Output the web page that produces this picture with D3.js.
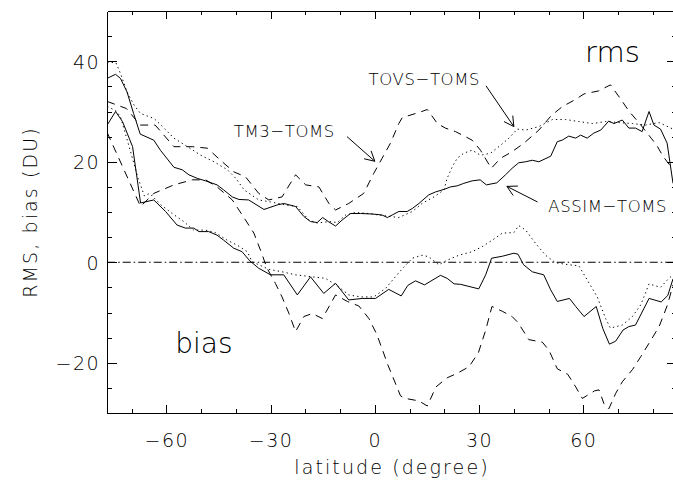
<!DOCTYPE html>
<html><head><meta charset="utf-8">
<script src="https://cdn.jsdelivr.net/npm/d3@7"></script>
<style>
body{margin:0;background:#fff}
svg{display:block}
text{font-family:'DejaVu Sans',sans-serif;font-weight:200;fill:#000}
.txt{opacity:0.999}
</style>
</head><body>
<svg id="c" width="673" height="485"></svg>
<script>
// ---- data: [latitude, value] ----
const assimRms = [[-77,36.6],[-74.6,37.4],[-73.2,36.6],[-71.3,33.9],[-69.4,29.6],[-67.5,25.5],[-63.6,24.3],[-61.7,22.3],[-57.8,18.9],[-55.4,18.4],[-53.5,17.4],[-51.1,16.7],[-48.7,16.2],[-45.4,15.4],[-43.5,14.4],[-41,13.0],[-39.1,12.5],[-36.3,12.4],[-31.9,10.5],[-28.1,11.4],[-26.2,11.7],[-22.8,11.1],[-20.4,9.1],[-18.5,8.1],[-16.6,7.9],[-15,8.9],[-13.4,8.1],[-11.3,7.2],[-9.4,8.4],[-7,9.7],[-4.1,9.7],[-0.7,9.6],[2.1,9.4],[3.6,8.9],[5,9.4],[6.9,10.1],[9.3,10.1],[10.8,10.7],[12.7,11.7],[15.5,13.4],[17.5,14.0],[19.9,14.5],[21.8,15.0],[23.7,15.2],[25.6,15.7],[28,16.2],[30.3,16.4],[32.1,15.4],[35.1,15.8],[37.6,17.4],[39.5,18.7],[41.4,19.8],[43.4,20.0],[45.3,20.3],[47.2,20.0],[50.6,21.1],[52.5,24.0],[53.9,24.3],[55.8,25.1],[57.8,24.7],[59.2,25.3],[61.1,24.7],[63,25.7],[65,26.3],[67.3,28.1],[68.8,27.6],[71.2,28.3],[73.1,26.7],[75,26.7],[76.9,26.0],[78.9,30.0],[80.3,27.3],[82.2,26.5],[84.1,23.7],[85.8,15.7]];
const tovsRms = [[-77,39.8],[-74.5,39.7],[-73.2,37.6],[-71.3,33.9],[-69.3,31.3],[-67.4,29.6],[-63.5,28.6],[-61.1,27.0],[-57.8,24.7],[-53.9,23.0],[-50.1,21.3],[-46.3,20.0],[-42.4,18.4],[-40,16.7],[-37.6,14.4],[-33.4,12.4],[-30,12.0],[-25.7,11.4],[-22.3,11.1],[-19,8.4],[-16.6,7.8],[-13.2,8.1],[-10.8,7.9],[-8.4,9.4],[-5.6,9.9],[-1.7,9.7],[1.1,9.4],[4.5,9.1],[6.9,8.9],[10.8,10.1],[13.6,11.7],[17,13.0],[19.9,14.4],[20.8,16.7],[22.3,19.0],[23.7,20.7],[25.6,21.7],[28,22.3],[30.4,21.3],[33.3,21.7],[36.2,23.3],[38.6,24.7],[41,26.5],[43.4,26.3],[47.2,27.0],[51.1,28.4],[54.9,28.4],[58.7,28.0],[62.6,27.6],[66.4,28.0],[70.2,27.8],[74.1,27.6],[77.9,27.3],[81.8,27.8],[85.8,26.5]];
const tm3Rms = [[-77,32.0],[-71.5,30.6],[-67.5,27.3],[-63.2,27.3],[-57.8,23.0],[-52.5,23.0],[-48.2,22.7],[-44.4,20.3],[-40.6,18.0],[-37.2,17.0],[-33.4,13.7],[-30.5,12.4],[-26.7,13.0],[-22.8,17.4],[-19.9,15.4],[-16.1,15.0],[-13.2,11.7],[-11.3,10.4],[-7.5,11.7],[-3.2,13.7],[-0.3,17.7],[2.1,20.7],[4.5,23.7],[6.9,27.6],[7.9,28.8],[12.7,29.8],[15.1,30.4],[18,27.6],[20.3,26.7],[23.2,26.0],[28,24.3],[30.4,22.3],[33.5,18.7],[36.2,20.7],[39.5,22.0],[42.9,23.7],[47.2,26.3],[50.8,29.2],[54,31.0],[57.5,32.3],[60.2,33.5],[64.4,34.1],[67.8,35.3],[70.4,32.8],[73.2,30.0],[76.2,27.6],[79.5,24.7],[81,23.4],[83,21.0],[85.8,18.5]];
const assimBias = [[-77,27.3],[-74.6,30.0],[-72.6,28.0],[-69.7,23.0],[-67.4,11.8],[-63.6,12.4],[-60.2,10.1],[-56.9,7.4],[-54.5,6.8],[-52.1,6.8],[-50.6,6.1],[-47.8,6.1],[-45.4,5.4],[-43.5,4.4],[-40.6,2.8],[-38.2,2.1],[-36,0.3],[-33.4,-1.2],[-30,-2.5],[-26.2,-2.5],[-22.3,-6.5],[-18.5,-2.9],[-14.7,-6.2],[-11.3,-4.2],[-7.5,-7.5],[-3.6,-7.2],[0.2,-7.2],[4,-5.4],[7.6,-6.7],[9.5,-4.6],[11.7,-3.7],[14.3,-4.5],[18.9,-2.6],[20.8,-3.2],[22.8,-4.3],[24.7,-4.4],[29.9,-5.3],[31.9,-2.5],[33.6,0.8],[36.7,1.2],[40,1.8],[41.2,1.6],[42.8,-0.5],[45.3,-1.9],[48.6,-2.5],[50.6,-5.5],[52.5,-7.8],[56,-7.2],[57.8,-8.8],[60.2,-10.8],[63.7,-8.8],[65.6,-13.2],[67.5,-16.3],[69.3,-15.7],[71.4,-13.5],[73.1,-12.8],[75,-12.5],[78.9,-7.2],[82.4,-7.9],[84.3,-6.6],[85.8,-3.3]];
const tovsBias = [[-77,31.0],[-74.6,30.2],[-73.2,29.0],[-70.4,22.3],[-68.1,16.7],[-66.3,13.2],[-64.8,13.7],[-61.5,11.4],[-58.3,9.7],[-55,8.1],[-52.1,6.4],[-48.7,6.4],[-45.9,5.9],[-42.5,4.4],[-39.6,3.4],[-36.7,2.1],[-35.3,0.1],[-30.5,-1.4],[-26.7,-1.9],[-22.8,-2.5],[-18,-2.9],[-14.2,-3.2],[-10.4,-4.9],[-7.5,-6.5],[-4.1,-6.9],[-0.3,-6.9],[3.1,-5.2],[5.9,-2.9],[8.3,-1.0],[10.8,0.8],[13.6,1.4],[15.5,1.1],[18.4,-0.5],[20.8,0.4],[24.2,1.4],[28,2.1],[30.9,3.1],[33.8,4.4],[36.7,5.8],[40,5.9],[41.4,7.3],[43.4,6.4],[46.2,3.8],[49.1,1.4],[52,-0.1],[55.8,-0.5],[58.7,-0.7],[61.1,-3.5],[64,-6.9],[66.4,-11.2],[67.8,-13.1],[71.2,-12.5],[74.1,-10.8],[76.5,-8.5],[78.9,-4.3],[82.2,-5.0],[84.6,-3.2],[85.8,-2.5]];
const tm3Bias = [[-77,25.8],[-67.4,11.1],[-63.6,13.7],[-57.8,15.4],[-52.5,16.4],[-48.7,16.4],[-45.4,15.0],[-41,12.4],[-39.1,10.4],[-37.2,8.4],[-34.8,5.8],[-32.9,2.4],[-31,-1.2],[-28.6,-4.2],[-26.7,-6.9],[-24.7,-10.2],[-22.8,-13.8],[-20.4,-10.8],[-18,-10.2],[-15.1,-11.2],[-11.3,-6.5],[-7.9,-7.8],[-4.6,-8.7],[-1.7,-11.2],[0.6,-14.4],[3.8,-20.5],[7.4,-26.6],[8.8,-27.1],[12.7,-27.6],[15.1,-28.6],[17.6,-24.8],[20.8,-23.0],[23.7,-22.1],[27.1,-20.8],[29.8,-18.0],[31.9,-13.5],[33.7,-8.8],[36.8,-9.8],[39.5,-10.8],[41.2,-12.0],[44.3,-15.4],[48.2,-15.9],[50.1,-17.5],[52.5,-21.2],[55.5,-22.3],[57.8,-24.8],[59.7,-27.1],[63.2,-25.6],[64.5,-25.4],[65.9,-28.1],[67.3,-29.2],[69.3,-26.1],[71.2,-23.8],[74.2,-21.3],[76.5,-18.8],[79,-16.0],[81.8,-12.8],[84.2,-8.5],[85.8,-4.5]];

const xMajorTicks = [-60,-30,0,30,60];
const xMinorTicks = [-70,-50,-40,-20,-10,10,20,40,50,70,80];
const yMajorTicks = [-20,0,20,40];
const yMinorTicks = [-25,-15,-10,-5,5,10,15,25,30,35,45];
const xTitle = "latitude (degree)";
const yTitle = "RMS, bias (DU)";

// annotations in data coordinates
const labels = [
  {t:"rms", lat:60.5, v:39.9, size:29, ls:0},
  {t:"bias", lat:-57.4, v:-18.0, size:28, ls:0},
  {t:"TM3−TOMS", lat:-40.6, v:25.0, size:16.5, ls:0.6},
  {t:"TOVS−TOMS", lat:-1.8, v:35.2, size:16.5, ls:0.6},
  {t:"ASSIM−TOMS", lat:49.9, v:10.0, size:16.5, ls:0.6}
];
const arrows = [
  {from:[-8.0,25.0], to:[0.0,20.1]},
  {from:[32.0,35.1], to:[40.0,27.0]},
  {from:[46.8,12.0], to:[38.0,15.1]}
];

// ---- drawing ----
const W=673, H=485;
const x = d3.scaleLinear().domain([-77,87]).range([107.2,677.2]);
const y = d3.scaleLinear().domain([-30,50]).range([413,11]);
const svg = d3.select("#c");
svg.append("rect").attr("width",W).attr("height",H).attr("fill","#fff");

svg.append("clipPath").attr("id","clip").append("rect")
  .attr("x",x(-77)).attr("y",y(50)).attr("width",x(87)-x(-77)).attr("height",y(-30)-y(50));

const fmt = d => d<0 ? "\u2212"+Math.abs(d) : String(d);

function styleAxis(g){
  g.select(".domain").attr("stroke","#000").attr("stroke-width",1);
  g.selectAll(".tick line").attr("stroke","#000").attr("stroke-width",1);
  g.attr("shape-rendering","crispEdges");
}
// bottom
const gb = svg.append("g").attr("transform","translate(0,413)")
  .call(d3.axisBottom(x).tickValues(xMajorTicks).tickSize(-8).tickSizeOuter(0).tickFormat(fmt));
styleAxis(gb);
gb.selectAll("text").attr("class","txt").attr("y",34).attr("dy",0).style("font-size","19px").style("letter-spacing","1.5px").attr("fill","#000");
svg.append("g").attr("transform","translate(0,413)")
  .call(d3.axisBottom(x).tickValues(xMinorTicks).tickSize(-4).tickSizeOuter(0).tickFormat(""))
  .call(styleAxis);
// top
svg.append("g").attr("transform","translate(0,11)")
  .call(d3.axisTop(x).tickValues(xMajorTicks).tickSize(-8).tickSizeOuter(0).tickFormat(""))
  .call(styleAxis);
svg.append("g").attr("transform","translate(0,11)")
  .call(d3.axisTop(x).tickValues(xMinorTicks).tickSize(-4).tickSizeOuter(0).tickFormat(""))
  .call(styleAxis);
// left
const gl = svg.append("g").attr("transform","translate("+x(-77)+",0)")
  .call(d3.axisLeft(y).tickValues(yMajorTicks).tickSize(-10).tickSizeOuter(0).tickFormat(fmt));
styleAxis(gl);
gl.selectAll("text").attr("class","txt").attr("x",-7).attr("dy","0.36em").style("font-size","19px").style("letter-spacing","1.5px").attr("fill","#000");
svg.append("g").attr("transform","translate("+x(-77)+",0)")
  .call(d3.axisLeft(y).tickValues(yMinorTicks).tickSize(-5).tickSizeOuter(0).tickFormat(""))
  .call(styleAxis);
// right
svg.append("g").attr("transform","translate("+x(87)+",0)")
  .call(d3.axisRight(y).tickValues(yMajorTicks).tickSize(-10).tickSizeOuter(0).tickFormat(""))
  .call(styleAxis);
svg.append("g").attr("transform","translate("+x(87)+",0)")
  .call(d3.axisRight(y).tickValues(yMinorTicks).tickSize(-5).tickSizeOuter(0).tickFormat(""))
  .call(styleAxis);

// titles
svg.append("text").attr("class","txt").attr("x",392).attr("y",474).attr("text-anchor","middle")
  .style("font-size","19px").style("letter-spacing","2.1px").text(xTitle);
svg.append("text").attr("class","txt").attr("transform","translate(37,"+((y(50)+y(-30))/2)+") rotate(-90)")
  .attr("text-anchor","middle").style("font-size","19px").style("letter-spacing","2.1px").text(yTitle);

// zero line
const plot = svg.append("g").attr("clip-path","url(#clip)");
plot.append("line").attr("x1",x(-77)).attr("x2",x(87)).attr("y1",y(0)).attr("y2",y(0))
  .attr("stroke","#000").attr("stroke-width",1).attr("stroke-dasharray","8,3,1.5,3");

const line = d3.line().x(d=>x(d[0])).y(d=>y(d[1]));
const series = [
  {d:assimRms, dash:null},
  {d:assimBias, dash:null},
  {d:tovsRms, dash:"1.3,3.2"},
  {d:tovsBias, dash:"1.3,3.2"},
  {d:tm3Rms, dash:"8,6"},
  {d:tm3Bias, dash:"8,6"}
];
series.forEach(s=>{
  plot.append("path").attr("d",line(s.d)).attr("fill","none").attr("stroke","#000")
    .attr("stroke-width",1).attr("stroke-dasharray",s.dash);
});

// labels
labels.forEach(l=>{
  svg.append("text").attr("class","txt").attr("x",x(l.lat)).attr("y",y(l.v)).style("font-size",l.size+"px")
    .style("letter-spacing",l.ls+"px").text(l.t);
});
// arrows
arrows.forEach(a=>{
  const x1=x(a.from[0]), y1=y(a.from[1]), x2=x(a.to[0]), y2=y(a.to[1]);
  const ang=Math.atan2(y1-y2,x1-x2), L=11, h=0.5;
  const p = d3.path();
  p.moveTo(x1,y1); p.lineTo(x2,y2);
  p.moveTo(x2+L*Math.cos(ang+h), y2+L*Math.sin(ang+h)); p.lineTo(x2,y2);
  p.lineTo(x2+L*Math.cos(ang-h), y2+L*Math.sin(ang-h));
  svg.append("path").attr("d",p.toString()).attr("fill","none").attr("stroke","#000").attr("stroke-width",1);
});
</script>
</body></html>
